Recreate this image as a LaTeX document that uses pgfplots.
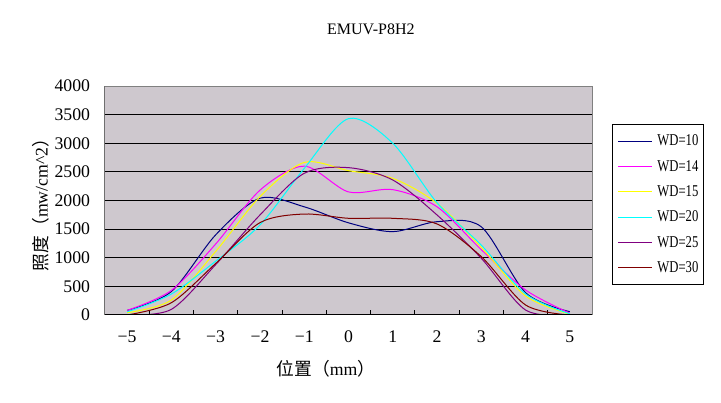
\documentclass[border=0pt]{standalone}
\usepackage{pgfplots}
\pgfplotsset{compat=1.18}
\usepackage{fontspec}
\setmainfont{Liberation Serif}
\newfontfamily\cjk{Noto Sans CJK SC}
\definecolor{plotbg}{RGB}{206,200,206}
\definecolor{c10}{RGB}{0,0,128}
\definecolor{c14}{RGB}{255,0,255}
\definecolor{c15}{RGB}{255,255,0}
\definecolor{c20}{RGB}{0,255,255}
\definecolor{c25}{RGB}{128,0,128}
\definecolor{c30}{RGB}{128,0,0}
\newcommand{\legtxt}[1]{\scalebox{1}[1.3]{#1}}
\begin{document}
\begin{tikzpicture}
\begin{axis}[
  at={(0,0)}, anchor=south west,
  scale only axis,
  width=365.25pt, height=171.75pt,
  xmin=-0.5, xmax=10.5,
  ymin=0, ymax=4000,
  xtick={0,...,10},
  xticklabels={−5,−4,−3,−2,−1,0,1,2,3,4,5},
  minor xtick={-0.5,0.5,...,10.5},
  ytick={0,500,...,4000},
  yticklabels={0,500,1000,1500,2000,2500,3000,3500,4000},
  tick pos=left,
  major tick length=0pt,
  minor tick length=3.75pt,
  tick align=inside,
  tick style={draw=black, line width=0.75pt},
  ymajorgrids=true,
  grid style={draw=black, line width=0.75pt},
  axis background/.style={fill=plotbg},
  axis line style={draw=gray, line width=0.75pt},
  xticklabel style={font=\fontsize{13.3}{15}\selectfont, inner sep=0pt, anchor=center, yshift=-16.5pt},
  yticklabel style={font=\fontsize{13.3}{15}\selectfont, inner sep=0pt, anchor=east, xshift=-11pt},
  xlabel={{\cjk 位置（}mm{\cjk ）}},
  xlabel style={font=\fontsize{13.3}{15}\selectfont, at={(axis description cs:0.4538,-0.2358)}, anchor=center, inner sep=0pt},
  ylabel={{\cjk 照度（}mw/cm\textasciicircum 2{\cjk ）}},
  ylabel style={font=\fontsize{13.3}{15}\selectfont, at={(axis description cs:-0.1314,0.5)}, anchor=center, inner sep=0pt, rotate=0},
  title={EMUV-P8H2},
  title style={font=\fontsize{12}{14}\selectfont, at={(axis description cs:0.546,1.214)}, anchor=center, inner sep=0pt},
  legend style={at={(axis description cs:1.0411,0.834)}, anchor=north west,
    draw=black, line width=0.6pt, fill=white,
    font=\fontsize{9.5}{11}\selectfont,
    inner xsep=4pt, inner ysep=3pt,
    nodes={inner sep=0pt, text height=7pt, text depth=0pt, minimum height=19pt},
    column sep=4pt},
  legend cell align=left,
  legend image code/.code={\draw[#1] (0pt,0pt) -- (25pt,0pt);},
  every axis plot/.append style={line width=0.75pt, smooth, tension=0.5, mark=none},
]
\addplot[c10] coordinates {(0,80) (1,410) (2,1400) (3,2040) (4,1890) (5,1610) (6,1456) (7,1630) (8,1540) (9,390) (10,58)};
\addlegendentry{\legtxt{WD=10}}
\addplot[c14] coordinates {(0,80) (1,430) (2,1240) (3,2180) (4,2600) (5,2150) (6,2190) (7,1890) (8,1140) (9,437) (10,30)};
\addlegendentry{\legtxt{WD=14}}
\addplot[c15] coordinates {(0,40) (1,262) (2,1110) (3,2067) (4,2665) (5,2521) (6,2387) (7,1950) (8,1180) (9,332) (10,15)};
\addlegendentry{\legtxt{WD=15}}
\addplot[c20] coordinates {(0,55) (1,367) (2,940) (3,1572) (4,2560) (5,3430) (6,3000) (7,1960) (8,1220) (9,367) (10,20)};
\addlegendentry{\legtxt{WD=20}}
\addplot[c25] coordinates {(0,0) (1,99) (2,880) (3,1747) (4,2475) (5,2574) (6,2358) (7,1747) (8,990) (9,87) (10,0)};
\addlegendentry{\legtxt{WD=25}}
\addplot[c30] coordinates {(0,0) (1,215) (2,900) (3,1613) (4,1764) (5,1689) (6,1689) (7,1590) (8,1019) (9,175) (10,0)};
\addlegendentry{\legtxt{WD=30}}
\draw[black, line width=0.75pt] (rel axis cs:0,1) -- (rel axis cs:0,0) -- (rel axis cs:1,0);
\end{axis}
\useasboundingbox (-78.75pt,-66pt) rectangle (462pt,236.25pt);
\end{tikzpicture}
\end{document}
